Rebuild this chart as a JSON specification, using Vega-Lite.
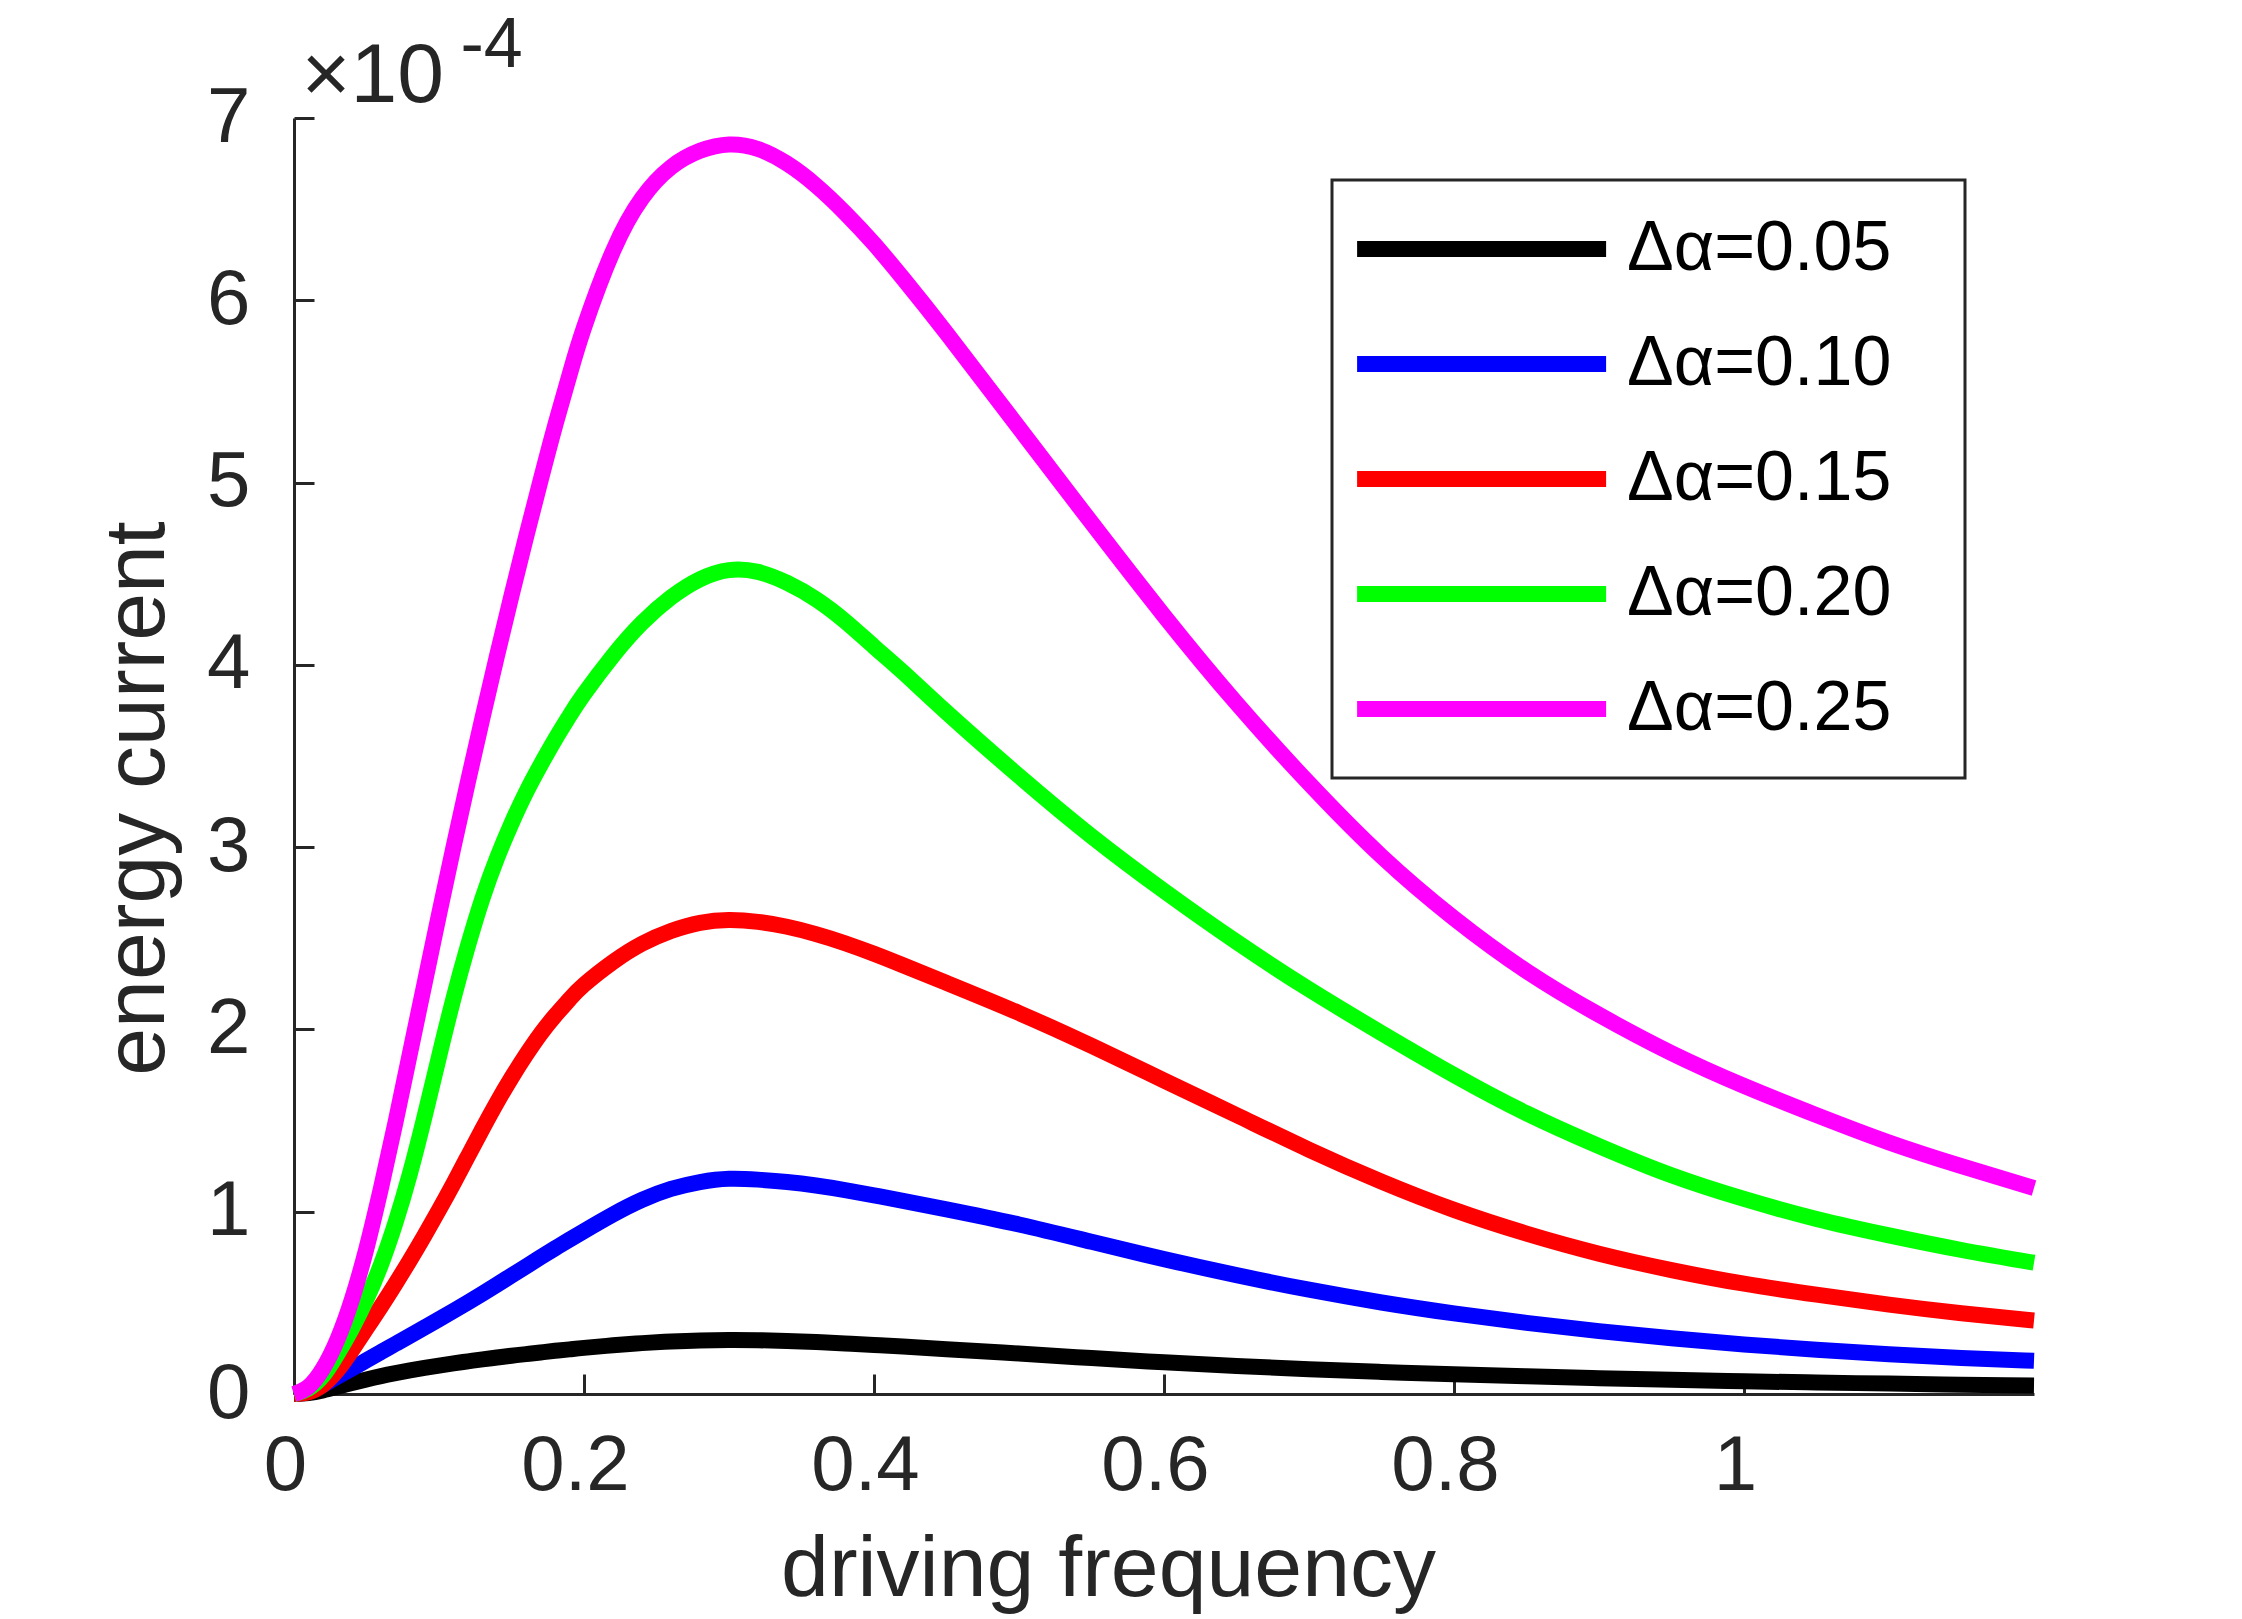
{
  "$schema": "https://vega.github.io/schema/vega-lite/v6.json",
  "width": 1740,
  "height": 1276,
  "autosize": {"type": "none"},
  "padding": {"left": 294, "top": 118, "right": 208, "bottom": 225},
  "background": "white",
  "layer": [
    {
      "data": {
        "values": [
          {"f":0,"d":"0.05","v":0},{"f":0.01,"d":"0.05","v":0.005},{"f":0.02,"d":"0.05","v":0.02},{"f":0.03,"d":"0.05","v":0.04},{"f":0.04,"d":"0.05","v":0.06},{"f":0.05,"d":"0.05","v":0.08},{"f":0.06,"d":"0.05","v":0.098},{"f":0.07,"d":"0.05","v":0.114},{"f":0.08,"d":"0.05","v":0.129},{"f":0.09,"d":"0.05","v":0.143},{"f":0.1,"d":"0.05","v":0.156},{"f":0.11,"d":"0.05","v":0.168},{"f":0.12,"d":"0.05","v":0.179},{"f":0.13,"d":"0.05","v":0.19},{"f":0.14,"d":"0.05","v":0.2},{"f":0.15,"d":"0.05","v":0.21},{"f":0.16,"d":"0.05","v":0.219},{"f":0.17,"d":"0.05","v":0.228},{"f":0.18,"d":"0.05","v":0.237},{"f":0.19,"d":"0.05","v":0.245},{"f":0.2,"d":"0.05","v":0.253},
          {"f":0.22,"d":"0.05","v":0.267},{"f":0.24,"d":"0.05","v":0.279},{"f":0.26,"d":"0.05","v":0.288},{"f":0.28,"d":"0.05","v":0.294},{"f":0.3,"d":"0.05","v":0.296},{"f":0.32,"d":"0.05","v":0.295},{"f":0.34,"d":"0.05","v":0.291},{"f":0.36,"d":"0.05","v":0.285},{"f":0.38,"d":"0.05","v":0.277},{"f":0.4,"d":"0.05","v":0.269},{"f":0.42,"d":"0.05","v":0.26},
          {"f":0.45,"d":"0.05","v":0.246},{"f":0.5,"d":"0.05","v":0.222},{"f":0.55,"d":"0.05","v":0.197},{"f":0.6,"d":"0.05","v":0.174},{"f":0.65,"d":"0.05","v":0.154},{"f":0.7,"d":"0.05","v":0.136},{"f":0.75,"d":"0.05","v":0.121},{"f":0.8,"d":"0.05","v":0.108},{"f":0.85,"d":"0.05","v":0.097},{"f":0.9,"d":"0.05","v":0.087},{"f":0.95,"d":"0.05","v":0.078},{"f":1,"d":"0.05","v":0.07},{"f":1.05,"d":"0.05","v":0.063},{"f":1.1,"d":"0.05","v":0.057},{"f":1.15,"d":"0.05","v":0.051},{"f":1.2,"d":"0.05","v":0.046},

          {"f":0,"d":"0.10","v":0},{"f":0.01,"d":"0.10","v":0.015},{"f":0.02,"d":"0.10","v":0.05},{"f":0.03,"d":"0.10","v":0.095},{"f":0.04,"d":"0.10","v":0.14},{"f":0.05,"d":"0.10","v":0.185},{"f":0.06,"d":"0.10","v":0.23},{"f":0.07,"d":"0.10","v":0.275},{"f":0.08,"d":"0.10","v":0.32},{"f":0.09,"d":"0.10","v":0.365},{"f":0.1,"d":"0.10","v":0.41},{"f":0.11,"d":"0.10","v":0.456},{"f":0.12,"d":"0.10","v":0.503},{"f":0.13,"d":"0.10","v":0.551},{"f":0.14,"d":"0.10","v":0.6},{"f":0.15,"d":"0.10","v":0.65},{"f":0.16,"d":"0.10","v":0.7},{"f":0.17,"d":"0.10","v":0.75},{"f":0.18,"d":"0.10","v":0.799},{"f":0.19,"d":"0.10","v":0.847},{"f":0.2,"d":"0.10","v":0.894},
          {"f":0.22,"d":"0.10","v":0.985},{"f":0.24,"d":"0.10","v":1.065},{"f":0.26,"d":"0.10","v":1.125},{"f":0.28,"d":"0.10","v":1.163},{"f":0.3,"d":"0.10","v":1.181},{"f":0.32,"d":"0.10","v":1.176},{"f":0.34,"d":"0.10","v":1.163},{"f":0.36,"d":"0.10","v":1.144},{"f":0.38,"d":"0.10","v":1.119},{"f":0.4,"d":"0.10","v":1.09},{"f":0.42,"d":"0.10","v":1.06},
          {"f":0.45,"d":"0.10","v":1.013},{"f":0.5,"d":"0.10","v":0.93},{"f":0.55,"d":"0.10","v":0.835},{"f":0.6,"d":"0.10","v":0.74},{"f":0.65,"d":"0.10","v":0.652},{"f":0.7,"d":"0.10","v":0.572},{"f":0.75,"d":"0.10","v":0.502},{"f":0.8,"d":"0.10","v":0.442},{"f":0.85,"d":"0.10","v":0.39},{"f":0.9,"d":"0.10","v":0.345},{"f":0.95,"d":"0.10","v":0.306},{"f":1,"d":"0.10","v":0.272},{"f":1.05,"d":"0.10","v":0.243},{"f":1.1,"d":"0.10","v":0.218},{"f":1.15,"d":"0.10","v":0.198},{"f":1.2,"d":"0.10","v":0.182},

          {"f":0,"d":"0.15","v":0},{"f":0.01,"d":"0.15","v":0.01},{"f":0.02,"d":"0.15","v":0.05},{"f":0.03,"d":"0.15","v":0.13},{"f":0.04,"d":"0.15","v":0.24},{"f":0.05,"d":"0.15","v":0.36},{"f":0.06,"d":"0.15","v":0.48},{"f":0.07,"d":"0.15","v":0.605},{"f":0.08,"d":"0.15","v":0.735},{"f":0.09,"d":"0.15","v":0.87},{"f":0.1,"d":"0.15","v":1.01},{"f":0.11,"d":"0.15","v":1.155},{"f":0.12,"d":"0.15","v":1.305},{"f":0.13,"d":"0.15","v":1.455},{"f":0.14,"d":"0.15","v":1.6},{"f":0.15,"d":"0.15","v":1.735},{"f":0.16,"d":"0.15","v":1.86},{"f":0.17,"d":"0.15","v":1.975},{"f":0.18,"d":"0.15","v":2.075},{"f":0.19,"d":"0.15","v":2.165},{"f":0.2,"d":"0.15","v":2.245},
          {"f":0.22,"d":"0.15","v":2.37},{"f":0.24,"d":"0.15","v":2.47},{"f":0.26,"d":"0.15","v":2.54},{"f":0.28,"d":"0.15","v":2.585},{"f":0.3,"d":"0.15","v":2.6},{"f":0.32,"d":"0.15","v":2.59},{"f":0.34,"d":"0.15","v":2.563},{"f":0.36,"d":"0.15","v":2.523},{"f":0.38,"d":"0.15","v":2.473},{"f":0.4,"d":"0.15","v":2.415},{"f":0.42,"d":"0.15","v":2.352},
          {"f":0.45,"d":"0.15","v":2.255},{"f":0.5,"d":"0.15","v":2.09},{"f":0.55,"d":"0.15","v":1.91},{"f":0.6,"d":"0.15","v":1.72},{"f":0.65,"d":"0.15","v":1.53},{"f":0.7,"d":"0.15","v":1.34},{"f":0.75,"d":"0.15","v":1.165},{"f":0.8,"d":"0.15","v":1.01},{"f":0.85,"d":"0.15","v":0.88},{"f":0.9,"d":"0.15","v":0.77},{"f":0.95,"d":"0.15","v":0.68},{"f":1,"d":"0.15","v":0.605},{"f":1.05,"d":"0.15","v":0.545},{"f":1.1,"d":"0.15","v":0.49},{"f":1.15,"d":"0.15","v":0.443},{"f":1.2,"d":"0.15","v":0.403},

          {"f":0,"d":"0.20","v":0},{"f":0.01,"d":"0.20","v":0.03},{"f":0.02,"d":"0.20","v":0.1},{"f":0.03,"d":"0.20","v":0.22},{"f":0.04,"d":"0.20","v":0.36},{"f":0.05,"d":"0.20","v":0.52},{"f":0.06,"d":"0.20","v":0.71},{"f":0.07,"d":"0.20","v":0.94},{"f":0.08,"d":"0.20","v":1.21},{"f":0.09,"d":"0.20","v":1.52},{"f":0.1,"d":"0.20","v":1.85},{"f":0.11,"d":"0.20","v":2.17},{"f":0.12,"d":"0.20","v":2.46},{"f":0.13,"d":"0.20","v":2.72},{"f":0.14,"d":"0.20","v":2.94},{"f":0.15,"d":"0.20","v":3.13},{"f":0.16,"d":"0.20","v":3.3},{"f":0.17,"d":"0.20","v":3.45},{"f":0.18,"d":"0.20","v":3.59},{"f":0.19,"d":"0.20","v":3.72},{"f":0.2,"d":"0.20","v":3.84},
          {"f":0.22,"d":"0.20","v":4.05},{"f":0.24,"d":"0.20","v":4.23},{"f":0.26,"d":"0.20","v":4.37},{"f":0.28,"d":"0.20","v":4.47},{"f":0.3,"d":"0.20","v":4.52},{"f":0.32,"d":"0.20","v":4.51},{"f":0.34,"d":"0.20","v":4.45},{"f":0.36,"d":"0.20","v":4.36},{"f":0.38,"d":"0.20","v":4.24},{"f":0.4,"d":"0.20","v":4.1},{"f":0.42,"d":"0.20","v":3.96},
          {"f":0.45,"d":"0.20","v":3.74},{"f":0.5,"d":"0.20","v":3.39},{"f":0.55,"d":"0.20","v":3.06},{"f":0.6,"d":"0.20","v":2.76},{"f":0.65,"d":"0.20","v":2.48},{"f":0.7,"d":"0.20","v":2.22},{"f":0.75,"d":"0.20","v":1.98},{"f":0.8,"d":"0.20","v":1.75},{"f":0.85,"d":"0.20","v":1.54},{"f":0.9,"d":"0.20","v":1.36},{"f":0.95,"d":"0.20","v":1.2},{"f":1,"d":"0.20","v":1.07},{"f":1.05,"d":"0.20","v":0.96},{"f":1.1,"d":"0.20","v":0.87},{"f":1.15,"d":"0.20","v":0.79},{"f":1.2,"d":"0.20","v":0.72},

          {"f":0,"d":"0.25","v":0},{"f":0.01,"d":"0.25","v":0.04},{"f":0.02,"d":"0.25","v":0.14},{"f":0.03,"d":"0.25","v":0.3},{"f":0.04,"d":"0.25","v":0.52},{"f":0.05,"d":"0.25","v":0.8},{"f":0.06,"d":"0.25","v":1.13},{"f":0.07,"d":"0.25","v":1.49},{"f":0.08,"d":"0.25","v":1.87},{"f":0.09,"d":"0.25","v":2.25},{"f":0.1,"d":"0.25","v":2.63},{"f":0.11,"d":"0.25","v":3.0},{"f":0.12,"d":"0.25","v":3.36},{"f":0.13,"d":"0.25","v":3.71},{"f":0.14,"d":"0.25","v":4.05},{"f":0.15,"d":"0.25","v":4.38},{"f":0.16,"d":"0.25","v":4.7},{"f":0.17,"d":"0.25","v":5.01},{"f":0.18,"d":"0.25","v":5.31},{"f":0.19,"d":"0.25","v":5.59},{"f":0.2,"d":"0.25","v":5.85},
          {"f":0.22,"d":"0.25","v":6.27},{"f":0.24,"d":"0.25","v":6.56},{"f":0.26,"d":"0.25","v":6.73},{"f":0.28,"d":"0.25","v":6.82},{"f":0.3,"d":"0.25","v":6.855},{"f":0.32,"d":"0.25","v":6.83},{"f":0.34,"d":"0.25","v":6.75},{"f":0.36,"d":"0.25","v":6.63},{"f":0.38,"d":"0.25","v":6.48},{"f":0.4,"d":"0.25","v":6.31},{"f":0.42,"d":"0.25","v":6.12},
          {"f":0.45,"d":"0.25","v":5.82},{"f":0.5,"d":"0.25","v":5.3},{"f":0.55,"d":"0.25","v":4.78},{"f":0.6,"d":"0.25","v":4.27},{"f":0.65,"d":"0.25","v":3.79},{"f":0.7,"d":"0.25","v":3.35},{"f":0.75,"d":"0.25","v":2.95},{"f":0.8,"d":"0.25","v":2.61},{"f":0.85,"d":"0.25","v":2.32},{"f":0.9,"d":"0.25","v":2.08},{"f":0.95,"d":"0.25","v":1.87},{"f":1,"d":"0.25","v":1.69},{"f":1.05,"d":"0.25","v":1.53},{"f":1.1,"d":"0.25","v":1.38},{"f":1.15,"d":"0.25","v":1.25},{"f":1.2,"d":"0.25","v":1.13}
        ]
      },
      "mark": {"type": "line", "strokeWidth": 16, "strokeCap": "butt", "interpolate": "natural"},
      "encoding": {
        "x": {
          "field": "f",
          "type": "quantitative",
          "scale": {"domain": [0, 1.2], "nice": false, "zero": false},
          "axis": {
            "title": "driving frequency",
            "values": [0, 0.2, 0.4, 0.6, 0.8, 1],
            "format": "~g",
            "labelPadding": 53,
            "labelOffset": -9,
            "titleX": 814,
            "titleY": 201,
            "titleAlign": "center",
            "titleBaseline": "alphabetic"
          }
        },
        "y": {
          "field": "v",
          "type": "quantitative",
          "scale": {"domain": [0, 7], "nice": false},
          "axis": {
            "title": "energy current",
            "values": [0, 1, 2, 3, 4, 5, 6, 7],
            "format": "d",
            "labelPadding": 64,
            "titleX": -131,
            "titleY": 680,
            "titleAlign": "center",
            "titleBaseline": "alphabetic"
          }
        },
        "color": {
          "field": "d",
          "type": "nominal",
          "scale": {
            "domain": ["0.05", "0.10", "0.15", "0.20", "0.25"],
            "range": ["#000000", "#0000ff", "#ff0000", "#00ff00", "#ff00ff"]
          },
          "legend": {
            "title": ".",
            "titleColor": "white",
            "titleFontSize": 8,
            "titleOrient": "right",
            "titlePadding": 37,
            "orient": "none",
            "legendX": 1038,
            "legendY": 62,
            "symbolType": "M-1.763,0H8.237",
            "symbolSize": 2480,
            "symbolStrokeWidth": 16,
            "labelFontSize": 70,
            "labelColor": "#000000",
            "labelOffset": 191,
            "labelLimit": 0,
            "labelExpr": "'Δα=' + datum.label",
            "rowPadding": 45,
            "padding": 34,
            "strokeColor": "#262626",
            "fillColor": "white",
            "encode": {"legend": {"update": {"strokeWidth": {"value": 3}}}}
          }
        }
      }
    },
    {
      "data": {"values": [{"f": 0}]},
      "mark": {"type": "rule", "opacity": 0},
      "encoding": {
        "x": {
          "field": "f",
          "type": "quantitative",
          "scale": {"domain": [0, 1.2], "nice": false, "zero": false},
          "axis": {
            "orient": "top",
            "title": "×10",
            "domain": false,
            "ticks": false,
            "labels": false,
            "grid": false,
            "titleFontSize": 84,
            "titleX": 7,
            "titleY": -17,
            "titleAlign": "left",
            "titleBaseline": "alphabetic",
            "titleAngle": 0
          }
        }
      }
    },
    {
      "data": {"values": [{"v": 0}]},
      "mark": {"type": "rule", "opacity": 0},
      "encoding": {
        "y": {
          "field": "v",
          "type": "quantitative",
          "scale": {"domain": [0, 7], "nice": false},
          "axis": {
            "orient": "right",
            "title": "-4",
            "domain": false,
            "ticks": false,
            "labels": false,
            "grid": false,
            "titleFontSize": 70,
            "titleX": -1574,
            "titleY": -52,
            "titleAlign": "left",
            "titleBaseline": "alphabetic",
            "titleAngle": 0
          }
        }
      }
    }
  ],
  "resolve": {"axis": {"x": "independent", "y": "independent"}},
  "config": {
    "font": "Liberation Sans",
    "view": {"stroke": null},
    "axis": {
      "grid": false,
      "domainColor": "#262626",
      "domainWidth": 3,
      "tickColor": "#262626",
      "tickWidth": 3,
      "tickSize": -20,
      "labelFontSize": 78,
      "labelColor": "#262626",
      "labelFlush": false,
      "labelOverlap": false,
      "titleFontSize": 86,
      "titleFontWeight": "normal",
      "titleColor": "#262626"
    }
  }
}
